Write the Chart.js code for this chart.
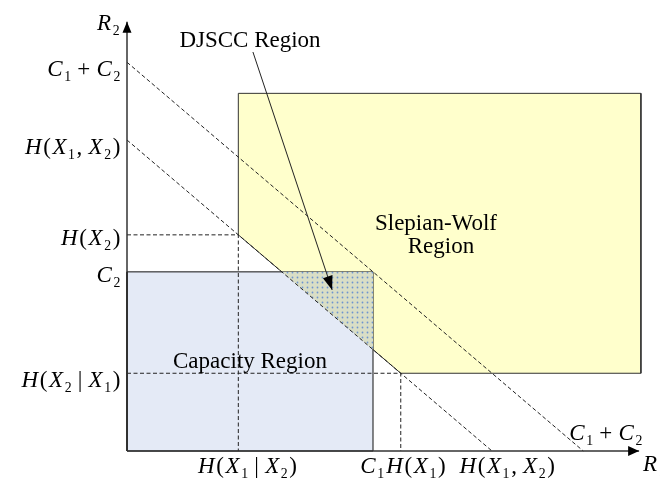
<!DOCTYPE html>
<html>
<head>
<meta charset="utf-8">
<script src="https://cdn.jsdelivr.net/npm/chart.js@4.4.1/dist/chart.umd.min.js"></script>
<style>
  html, body { margin: 0; padding: 0; background: #fff; }
  canvas { display: block; }
</style>
</head>
<body>
<canvas id="region-chart" width="660" height="482"></canvas>
<script>
// rate values (H(X1,X2) = 10 units)
const C1 = 6.74;
const C2 = 5.76;
const H1 = 7.5;          // H(X1)
const H2 = 6.95;         // H(X2)
const H12 = 10;          // H(X1,X2)
const Csum = 12.5;       // C1 + C2
const H1given2 = H12 - H2;
const H2given1 = H12 - H1;
const swRight = 14.08;   // Slepian-Wolf box is cut off on the right
const swTop = 11.5;
const axisEndX = 14.03;
const axisEndY = 13.8;

const xTickValues = [H1given2, C1, H1, H12, Csum];
const xTickLabels = ["H(X_1 | X_2)", "C_1", "H(X_1)", "H(X_1, X_2)", "C_1 + C_2"];
const yTickValues = [Csum, H12, H2, C2, H2given1];
const yTickLabels = ["C_1 + C_2", "H(X_1, X_2)", "H(X_2)", "C_2", "H(X_2 | X_1)"];

const slepianWolf = [[H1given2, swTop], [swRight, swTop], [swRight, H2given1], [H1, H2given1], [H1given2, H2], [H1given2, swTop]];
const capacity = [[0, 0], [C1, 0], [C1, C2], [0, C2], [0, 0]];
const djscc = [[H12 - C2, C2], [C1, C2], [C1, H12 - C1], [H12 - C2, C2]];
const sumLine = [[0, Csum], [Csum, 0]];
const jointLine = [[0, H12], [H12, 0]];
const h2Guide = [[0, H2], [H1given2, H2], [H1given2, 0]];
const h2g1Guide = [[0, H2given1], [H1, H2given1], [H1, 0]];
const xAxisLine = [[0, 0], [axisEndX, 0]];
const yAxisLine = [[0, 0], [0, axisEndY]];
const pointer = [[3.45, 12.83], [5.62, 5.18]];

const SERIF = "'Liberation Serif', 'Times New Roman', serif";
const toPts = arr => arr.map(p => ({ x: p[0], y: p[1] }));

// dotted fill for the DJSCC region
function dotPattern() {
    const c = document.createElement("canvas");
    c.width = 5; c.height = 5;
    const g = c.getContext("2d");
    g.fillStyle = "#d9dec6";
    g.fillRect(0, 0, 5, 5);
    g.fillStyle = "#6f95cf";
    g.beginPath();
    g.arc(2.5, 2.5, 0.9, 0, Math.PI * 2);
    g.fill();
    return g.createPattern(c, "repeat");
}

function lineSet(points, opts) {
    return Object.assign({
        data: toPts(points),
        showLine: true,
        borderColor: "#222",
        borderWidth: 1,
        pointRadius: 0,
        fill: false,
        tension: 0,
        clip: false
    }, opts);
}

// italic capitals, upright punctuation, "_d" -> subscript digit
function mathTokens(str) {
    const out = [];
    for (let i = 0; i < str.length; i++) {
        const ch = str[i];
        if (ch === "_") { out.push({ t: str[++i], sub: true }); continue; }
        if (ch === " ") { out.push({ t: " ", space: true }); continue; }
        out.push({ t: ch, italic: /[A-Z]/.test(ch) });
    }
    return out;
}

function drawMath(ctx, str, x, y, align, size) {
    const toks = mathTokens(str);
    const fontOf = tk => tk.sub ? `${size * 0.6}px ${SERIF}` : `${tk.italic ? "italic " : ""}${size}px ${SERIF}`;
    let width = 0;
    toks.forEach(tk => {
        ctx.font = fontOf(tk);
        tk.w = tk.space ? size * 0.2 : ctx.measureText(tk.t).width + size * 0.07;
        width += tk.w;
    });
    let cx = align === "right" ? x - width : align === "center" ? x - width / 2 : x;
    ctx.fillStyle = "#000";
    ctx.textAlign = "left";
    ctx.textBaseline = "alphabetic";
    toks.forEach(tk => {
        if (!tk.space) {
            ctx.font = fontOf(tk);
            ctx.fillText(tk.t, cx, tk.sub ? y + size * 0.22 : y);
        }
        cx += tk.w;
    });
}

function arrowHead(ctx, from, to, len, half) {
    const a = Math.atan2(to.y - from.y, to.x - from.x);
    ctx.save();
    ctx.translate(to.x, to.y);
    ctx.rotate(a);
    ctx.fillStyle = "#000";
    ctx.beginPath();
    ctx.moveTo(0, 0);
    ctx.lineTo(-len, -half);
    ctx.lineTo(-len, half);
    ctx.closePath();
    ctx.fill();
    ctx.restore();
}

const yLabelDy = [14, 14, 10, 10, 14];
const xLabelDx = [10, 0, 16, 16, 0];

const diagramText = {
    id: "diagramText",
    afterDatasetsDraw(chart) {
        const { ctx, scales: { x, y } } = chart;
        const px = p => ({ x: x.getPixelForValue(p[0]), y: y.getPixelForValue(p[1]) });

        arrowHead(ctx, px(yAxisLine[0]), px(yAxisLine[1]), 11, 4.5);
        arrowHead(ctx, px(xAxisLine[0]), px(xAxisLine[1]), 11, 5);
        arrowHead(ctx, px(pointer[0]), px(pointer[1]), 14, 5);

        const x0 = x.getPixelForValue(0);
        const y0 = y.getPixelForValue(0);
        yTickValues.forEach((v, i) => {
            drawMath(ctx, yTickLabels[i], x0 - 5, y.getPixelForValue(v) + yLabelDy[i], "right", 23);
        });
        xTickValues.forEach((v, i) => {
            if (i === xTickValues.length - 1) {
                drawMath(ctx, xTickLabels[i], x.getPixelForValue(v) - 14, y0 - 11, "left", 23);
            } else {
                drawMath(ctx, xTickLabels[i], x.getPixelForValue(v) + xLabelDx[i], y0 + 22, "center", 23);
            }
        });

        drawMath(ctx, "R_2", x0 - 30, y.getPixelForValue(axisEndY) + 8, "left", 23);
        drawMath(ctx, "R_1", x.getPixelForValue(axisEndX) + 4, y0 + 20, "left", 23);

        ctx.font = `23px ${SERIF}`;
        ctx.fillStyle = "#000";
        ctx.textAlign = "center";
        ctx.fillText("DJSCC Region", 250, 47);
        ctx.fillText("Slepian-Wolf", 436, 230);
        ctx.fillText("Region", 441, 253);
        ctx.fillText("Capacity Region", 250, 368);
    }
};

const dash = [4, 2.5];

new Chart(document.getElementById("region-chart"), {
    type: "scatter",
    data: {
        datasets: [
            lineSet(pointer, { order: 1 }),
            lineSet(xAxisLine, { order: 2, borderWidth: 1.5, borderColor: "#333" }),
            lineSet(yAxisLine, { order: 2, borderWidth: 1.5, borderColor: "#333" }),
            lineSet(sumLine, { order: 3, borderDash: dash }),
            lineSet(jointLine, { order: 3, borderDash: dash }),
            lineSet(h2Guide, { order: 3, borderDash: dash }),
            lineSet(h2g1Guide, { order: 3, borderDash: dash }),
            lineSet(djscc, { order: 4, borderWidth: 0, borderColor: "rgba(0,0,0,0)", backgroundColor: dotPattern(), fill: "shape" }),
            lineSet(capacity, { order: 5, borderColor: "#111", backgroundColor: "#e4eaf6", fill: "shape" }),
            lineSet(slepianWolf, { order: 6, borderColor: "#333", backgroundColor: "#ffffcc", fill: "shape" })
        ]
    },
    options: {
        responsive: false,
        animation: false,
        layout: { padding: { left: 127, right: 3.75, top: 15.6, bottom: 31 } },
        plugins: {
            legend: { display: false },
            tooltip: { enabled: false }
        },
        scales: {
            x: { type: "linear", min: 0, max: 14.5, display: false },
            y: { type: "linear", min: 0, max: 14, display: false }
        }
    },
    plugins: [diagramText]
});
</script>
</body>
</html>
